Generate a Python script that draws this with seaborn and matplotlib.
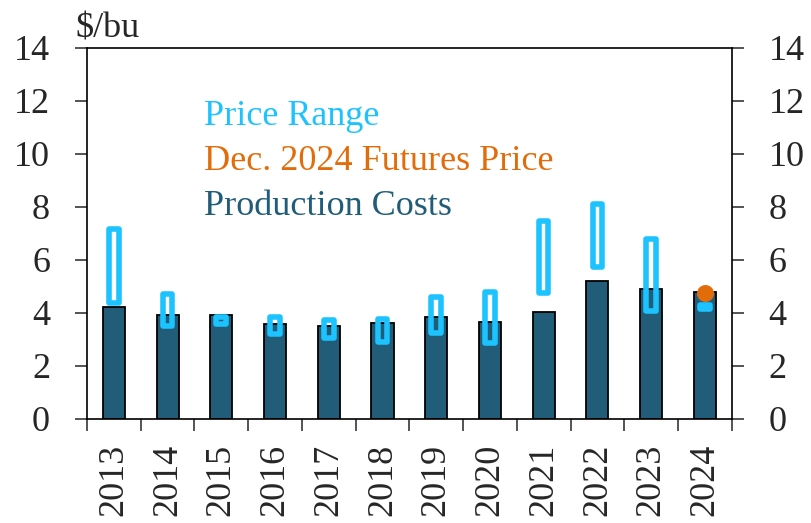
import numpy as np
import pandas as pd
import matplotlib
matplotlib.use("Agg")
import matplotlib.pyplot as plt
import seaborn as sns

# data
years = ["2013", "2014", "2015", "2016", "2017", "2018",
         "2019", "2020", "2021", "2022", "2023", "2024"]
production_costs = [4.20, 3.92, 3.90, 3.58, 3.50, 3.61,
                    3.85, 3.65, 4.01, 5.21, 4.91, 4.78]
price_low = [4.37, 3.48, 3.59, 3.20, 3.05, 2.90,
             3.25, 2.86, 4.76, 5.73, 4.06, 4.13]
price_high = [7.14, 4.72, 3.82, 3.82, 3.71, 3.78,
              4.59, 4.80, 7.45, 8.09, 6.80, 4.30]
futures_year = ["2024"]
futures_price = [4.73]

bar_color = "#215D79"
range_color = "#1CC3FF"
dot_color = "#E36C0A"

sns.set_style("white")
plt.rcParams["font.family"] = ["Liberation Serif", "DejaVu Serif"]

df = pd.DataFrame({"year": years, "cost": production_costs,
                   "low": price_low, "high": price_high})

fig = plt.figure(figsize=(8.12, 5.23), dpi=100)
ax = fig.add_axes([87 / 812, 1 - 418.7 / 523, (731.7 - 87) / 812, (418.7 - 47.7) / 523])

# production cost bars
sns.barplot(data=df, x="year", y="cost", color=bar_color, saturation=1,
            width=0.41, edgecolor="black", linewidth=1.3, ax=ax)

# price range boxes, open in the middle
xpos = np.arange(len(years))
ax.bar(xpos, df["high"] - df["low"], bottom=df["low"], width=0.18,
       facecolor="none", edgecolor=range_color, linewidth=4,
       joinstyle="round", zorder=3)

# december futures price
ax.scatter([years.index(y) for y in futures_year], futures_price,
           s=150, color=dot_color, zorder=4, linewidths=0)

ax.set_xlim(-0.5, 11.5)
ax.set_ylim(0, 14)
ax.set_yticks(range(0, 15, 2))
ax.set_xlabel("")
ax.set_ylabel("")

# ticks at category boundaries, labels at the centres
ax.set_xticks(np.arange(-0.5, 12, 1))
ax.set_xticklabels([])
ax.set_xticks(xpos, minor=True)
ax.set_xticklabels(years, minor=True, rotation=90)
ax.tick_params(axis="x", which="major", direction="out", length=8.6, width=1.1,
               bottom=True)
ax.tick_params(axis="x", which="minor", length=0, pad=18, labelsize=26)
ax.tick_params(axis="y", direction="out", length=8.6, width=1.1, pad=18,
               left=True, right=True, labelleft=True, labelright=True,
               labelsize=26)

for s in ax.spines.values():
    s.set_visible(True)
    s.set_linewidth(1.2)
    s.set_color("black")

fig.text(75 / 812, 1 - 37 / 523, "$/bu", fontsize=26, va="baseline", ha="left")

fig.text(204 / 812, 1 - 125 / 523, "Price Range", color=range_color,
         fontsize=26, va="baseline")
fig.text(204 / 812, 1 - 170 / 523, "Dec. 2024 Futures Price", color=dot_color,
         fontsize=26, va="baseline")
fig.text(204 / 812, 1 - 215 / 523, "Production Costs", color=bar_color,
         fontsize=26, va="baseline")

fig.savefig("out.png", dpi=100)
